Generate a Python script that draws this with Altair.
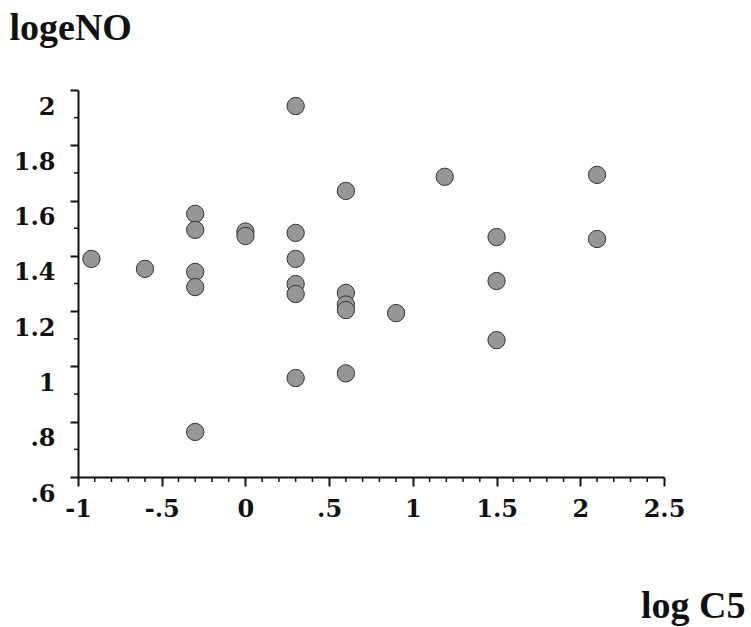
import altair as alt
import pandas as pd

# data
log_c5 = [-0.92, -0.6,
          -0.3, -0.3, -0.3, -0.3, -0.3,
          0.0, 0.0,
          0.3, 0.3, 0.3, 0.3, 0.3, 0.3,
          0.6, 0.6, 0.6, 0.6, 0.6,
          0.9, 1.19,
          1.5, 1.5, 1.5,
          2.1, 2.1]
loge_no = [1.389, 1.353,
           1.552, 1.494, 1.342, 1.287, 0.763,
           1.488, 1.472,
           1.942, 1.483, 1.389, 1.298, 1.262, 0.958,
           1.635, 1.266, 1.224, 1.204, 0.975,
           1.193, 1.686,
           1.468, 1.309, 1.095,
           1.693, 1.461]

x_major = [-1, -0.5, 0, 0.5, 1, 1.5, 2, 2.5]
x_minor = [-0.9, -0.8, -0.7, -0.6, -0.4, -0.3, -0.2, -0.1,
           0.1, 0.2, 0.3, 0.4, 0.6, 0.7, 0.8, 0.9,
           1.1, 1.2, 1.3, 1.4, 1.6, 1.7, 1.8, 1.9,
           2.1, 2.2, 2.3, 2.4]
y_major = [0.6, 0.8, 1.0, 1.2, 1.4, 1.6, 1.8, 2.0]
y_minor = [0.7, 0.9, 1.1, 1.3, 1.5, 1.7, 1.9]

W, H = 586, 387

df = pd.DataFrame({"x": log_c5, "y": loge_no})
xs = alt.Scale(domain=[-1, 2.5], nice=False, zero=False)
ys = alt.Scale(domain=[0.6, 2.0], nice=False, zero=False)

label_expr = "replace(replace(format(datum.value, '~g'), '\u2212', '-'), '0.', '.')"
tick_font = "DejaVu Serif"
title_font = "Liberation Serif"

x_axis = alt.Axis(
    values=x_major, tickSize=9, tickWidth=2, tickColor="#111",
    domainColor="#111", domainWidth=2, grid=False,
    labelFont=tick_font, labelFontWeight="bold", labelFontSize=24, labelColor="#111",
    labelBaseline="alphabetic", labelPadding=30, labelExpr=label_expr,
    labelOverlap=False, labelBound=False, labelFlush=False,
    title="log C5", titleFont=title_font, titleFontWeight="bold", titleFontSize=38,
    titleColor="#111", titleAlign="right", titleBaseline="alphabetic",
    titleX=W + 81, titleY=140, titleAnchor="end",
)
y_axis = alt.Axis(
    values=y_major, tickSize=8, tickWidth=2, tickColor="#111",
    domainColor="#111", domainWidth=2, grid=False,
    labelFont=tick_font, labelFontWeight="bold", labelFontSize=24, labelColor="#111",
    labelBaseline="alphabetic", labelOffset=24, labelPadding=15, labelExpr=label_expr,
    labelOverlap=False, labelBound=False, labelFlush=False,
    title="logeNO", titleFont=title_font, titleFontWeight="bold", titleFontSize=38,
    titleColor="#111", titleAngle=0, titleAlign="left", titleBaseline="alphabetic",
    titleX=-69, titleY=-51,
)

points = alt.Chart(df).mark_circle(
    size=300, fill="#969696", stroke="#333", strokeWidth=1, opacity=1
).encode(
    x=alt.X("x:Q", scale=xs, axis=x_axis),
    y=alt.Y("y:Q", scale=ys, axis=y_axis),
)

xminor = alt.Chart(pd.DataFrame({"v": x_minor})).mark_rule(
    color="#111", strokeWidth=1.5
).encode(
    x=alt.X("v:Q", scale=xs),
    y=alt.value(H), y2=alt.value(H + 5),
)
yminor = alt.Chart(pd.DataFrame({"v": y_minor})).mark_rule(
    color="#111", strokeWidth=1.5
).encode(
    y=alt.Y("v:Q", scale=ys),
    x=alt.value(0), x2=alt.value(-4),
)

chart = alt.layer(points, xminor, yminor).properties(
    width=W, height=H,
    autosize=alt.AutoSizeParams(type="none"),
    padding={"left": 78, "top": 90, "right": 87, "bottom": 150},
    background="white",
).configure_view(stroke=None)

chart.save("out.html", embed_options={"renderer": "svg", "actions": False})
